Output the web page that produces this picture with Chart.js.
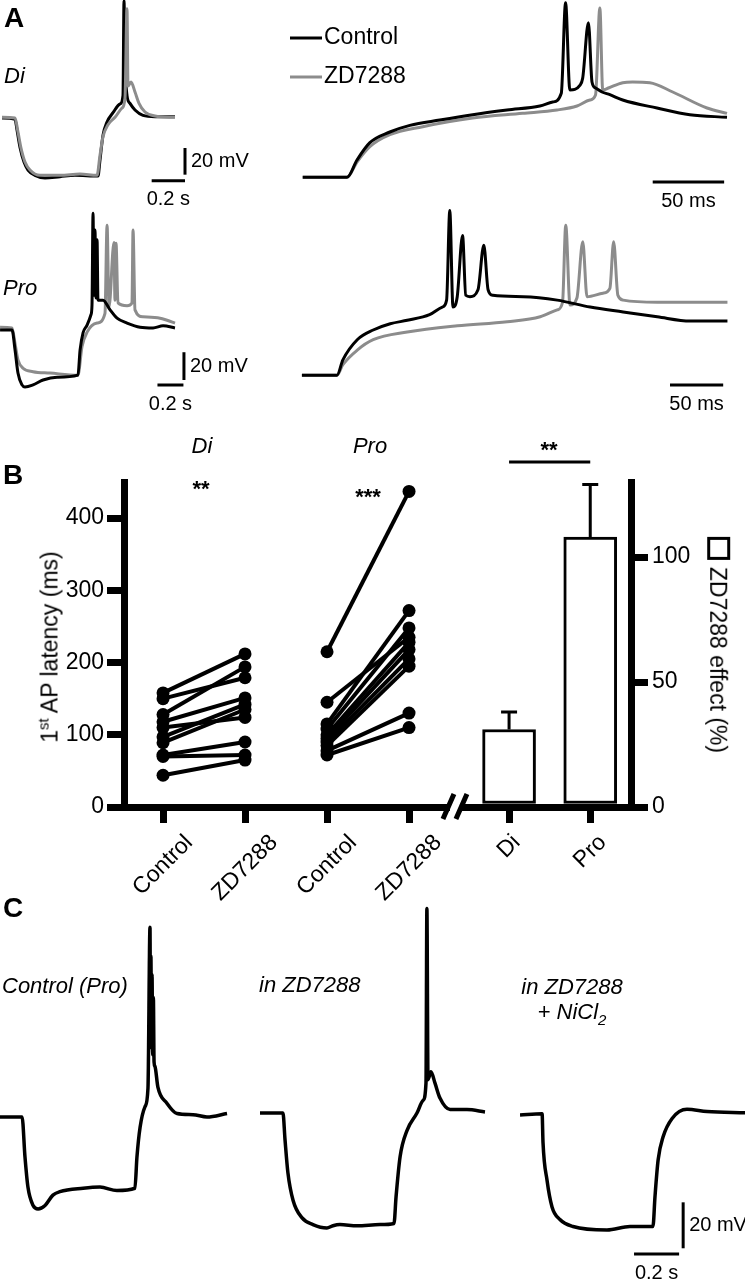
<!DOCTYPE html>
<html>
<head>
<meta charset="utf-8">
<script src="https://cdn.jsdelivr.net/npm/chart.js@4.4.0/dist/chart.umd.min.js"></script>
<style>
  html, body { margin: 0; padding: 0; background: #fff; }
  #fig { position: relative; width: 745px; height: 1280px; overflow: hidden;
         font-family: 'Liberation Sans', Arial, sans-serif; color: #000; }
  #fig canvas { position: absolute; }
  .t { position: absolute; line-height: 1; white-space: nowrap; font-size: 22px; }
  .c { transform: translate(-50%, -50%); }
  .l { transform: translateY(-50%); }
  .panel { font-weight: bold; font-size: 28px; }
  .it { font-style: italic; }
  .star { font-weight: bold; font-size: 22px; }
  sup { font-size: 15px; vertical-align: 9px; line-height: 0; }
  sub { font-size: 15px; vertical-align: -6px; line-height: 0; }
  .box { display: inline-block; width: 17px; height: 17px; border: 3px solid #000;
         vertical-align: middle; margin-right: 7px; position: relative; top: -2px; }
</style>
</head>
<body>
<div id="fig">
  <canvas id="diSlow" width="260" height="215" style="left:0;top:0"></canvas>
  <canvas id="diFast" width="455" height="215" style="left:290px;top:0"></canvas>
  <canvas id="proSlow" width="260" height="220" style="left:0;top:200px"></canvas>
  <canvas id="proFast" width="455" height="220" style="left:290px;top:200px"></canvas>
  <canvas id="cCtrl" width="245" height="390" style="left:0;top:890px"></canvas>
  <canvas id="cZD" width="245" height="390" style="left:245px;top:890px"></canvas>
  <canvas id="cNi" width="255" height="390" style="left:490px;top:890px"></canvas>
  <canvas id="panelB" width="745" height="485" style="left:0;top:420px"></canvas>

  <div class="t l panel" style="left:4px;top:18px">A</div>
  <div class="t l it" style="left:4px;top:76px">Di</div>
  <div class="t l it" style="left:3px;top:288px">Pro</div>

  <div class="t l panel" style="left:3px;top:475px">B</div>
  <div class="t c it" style="left:202px;top:446px">Di</div>
  <div class="t c it" style="left:370px;top:446px">Pro</div>
  <div class="t c star" style="left:201px;top:489px">**</div>
  <div class="t c star" style="left:368px;top:497px">***</div>
  <div class="t c star" style="left:549px;top:450px">**</div>
  <div class="t c" style="left:50px;top:647px;font-size:23px;transform:translate(-50%,-50%) rotate(-90deg)">1<sup>st</sup> AP latency (ms)</div>
  <div class="t c" style="left:717px;top:645px;font-size:23px;transform:translate(-50%,-50%) rotate(90deg)"><span class="box"></span>ZD7288 effect (%)</div>

  <div class="t l panel" style="left:3px;top:908px">C</div>
  <div class="t l it" style="left:2px;top:986px">Control (Pro)</div>
  <div class="t l it" style="left:259px;top:985px">in ZD7288</div>
  <div class="t c it" style="left:572px;top:987px">in ZD7288</div>
  <div class="t c it" style="left:572px;top:1012px">+ NiCl<sub>2</sub></div>
</div>

<script>
const FONT = "'Liberation Sans', Arial, sans-serif";
const GRAY = '#8c8c8c';

// ---- Panel A: traces as [time ms, mV] ----
const diSlowControl = [[-78,0],[0,-1],[12,-9],[30,-22],[54,-33],[78,-39],[120,-43],[180,-45],[270,-44],[360,-43],[498,-43.5],[510,-31.5],[528,-13],[552,-3],[588,4],[630,10.5],[648,17],[654,88],[660,43],[672,17],[690,11],[720,6],[768,2],[840,1],[960,1]];
const diSlowZD = [[-78,0.5],[0,0],[18,-10.5],[36,-22.5],[60,-33],[90,-39],[150,-43],[270,-43],[390,-42],[492,-43],[510,-28],[528,-14],[558,-5],[600,0.5],[642,7.5],[660,15],[672,82],[678,24],[696,27],[720,19.5],[744,11],[780,4.5],[840,1.5],[960,0.5]];

const diFastControl = [[-31,-43],[0,-43],[7,-30],[16,-17],[30,-9],[44,-4],[65,0],[88,4],[112,7.5],[135,10.5],[144,13.5],[150,20],[153,88],[156,22.5],[163,26],[165,31.5],[169,73],[171.5,28.5],[174,24],[178.5,21],[184,19],[193,15],[217,9],[240,4],[266,2]];
const diFastZD = [[-31,-43],[0,-43],[7,-31.5],[16,-20],[30,-11],[53,-5],[88,1.5],[123,5],[147,7.5],[161,10.5],[170,15],[174,19],[177,84],[179,22.5],[183,24],[193,28],[200,28.5],[212,28],[228,21],[252,9],[266,5]];

const proSlowControl = [[-92,0],[0,0],[23,-14],[46,-31],[77,-39.5],[100,-41],[162,-39.5],[239,-36],[347,-34],[508,-32.5],[524,-14.5],[547,-2],[578,3.5],[608,11],[616,18],[624,84],[631,25],[639,72],[647,23],[655,65],[662,21.5],[701,21.5],[755,14.5],[809,8.5],[886,5],[986,2],[1086,1.5],[1163,3],[1255,1.5]];
const proSlowZD = [[-92,2],[0,1.5],[23,-9.5],[46,-21.5],[85,-27.5],[162,-30],[293,-31],[508,-32.5],[539,-12],[578,-1.5],[655,5],[716,12],[732,75.5],[747,16.5],[785,63],[793,21.5],[801,62.5],[816,19.5],[886,17.5],[924,19.5],[932,72],[947,14.5],[1009,9.5],[1140,8.5],[1194,7],[1255,5]];

const proFastControl = [[-33,-32.5],[0,-32.5],[5.5,-21.5],[19,-7],[34,0],[50,4.5],[66,7],[87,11],[99,16.5],[103,21.5],[106,86],[109,16.5],[113,24],[118,68],[121,25],[125,24],[132.5,29],[138,61],[142,29],[146.5,25],[175,24],[207,21.5],[238,16.5],[269,13],[301,9.5],[332,6.5],[367,6.5]];
const proFastZD = [[-33,-32.5],[0,-32.5],[5.5,-25],[19,-14.5],[34,-7],[66,-1.5],[113,3],[160,6],[191,9.5],[207,14.5],[212,20],[215,75.5],[219,18],[225.5,23],[231,63.5],[235,24],[250,26.5],[256.5,30],[260,63.5],[264,25],[269,21.5],[301,20],[367,20]];

// ---- Panel B ----
const xTickPos = [1, 2, 3, 4, 5.22, 6.21];
const xTickLabels = ['Control', 'ZD7288', 'Control', 'ZD7288', 'Di', 'Pro'];
const diControl = [158, 150, 128, 118, 110, 97, 89, 72, 70, 44];
const diZD = [212, 179, 194, 151, 124, 142, 135, 90, 72, 65];
const proControl = [215, 145, 115, 108, 100, 95, 90, 85, 78, 72];
const proZD = [437, 235, 272, 248, 228, 218, 205, 195, 130, 110];
const effectMean = [31, 108];
const effectSem = [7, 21];

// ---- Panel C ----
const cControl = [[-111,0],[-13,0],[0,-17.5],[13,-30.5],[36,-38.5],[58,-40],[89,-38.5],[124,-34],[155,-32.5],[258,-31],[333,-30.5],[408,-32],[488,-31],[497,-17.5],[511,-4.5],[533,4.5],[546,12.5],[555,82.5],[557,40],[559,70],[562,30],[564,62],[567,27],[570,52],[573,24],[577,22],[590,13],[630,6],[675,1.5],[746,1],[808,0],[897,1.5]];
const cZD = [[-111,0],[-9,0],[0,-11.5],[13,-26],[36,-38],[75,-45.5],[124,-48.5],[186,-50],[213,-49],[244,-48.5],[320,-49],[422,-48.5],[484,-48],[493,-36.5],[511,-19],[542,-7.5],[586,0],[613,5.5],[626,13],[630,89],[635,14.5],[648,18],[666,13],[688,6.5],[733,1.5],[808,1.5],[888,0.5]];
const cNi = [[-102,0],[-4,0.5],[0,-12],[18,-28.5],[40,-40],[75,-45.5],[133,-48.5],[284,-50],[386,-48.5],[488,-48.5],[497,-35.5],[511,-19.5],[533,-9.5],[573,-1.5],[639,2.5],[728,1.5],[897,1]];

function pts(arr) { return arr.map(p => ({ x: p[0], y: p[1] })); }

// scale bars drawn through the chart's own scales
const scaleBars = {
  id: 'scaleBars',
  afterDatasetsDraw(chart, args, opts) {
    const { ctx } = chart;
    const xs = chart.scales.x, ys = chart.scales.y;
    ctx.save();
    ctx.strokeStyle = '#000';
    ctx.fillStyle = '#000';
    ctx.lineWidth = 3;
    ctx.font = '20px ' + FONT;
    ctx.textBaseline = 'middle';
    if (opts.time) {
      const b = opts.time;
      const x0 = xs.getPixelForValue(b.from), x1 = xs.getPixelForValue(b.to), py = ys.getPixelForValue(b.at);
      ctx.beginPath(); ctx.moveTo(x0, py); ctx.lineTo(x1, py); ctx.stroke();
      ctx.textAlign = 'center';
      ctx.fillText(b.label, (x0 + x1) / 2, py + 19);
    }
    if (opts.volt) {
      const b = opts.volt;
      const px = xs.getPixelForValue(b.at), y0 = ys.getPixelForValue(b.from), y1 = ys.getPixelForValue(b.to);
      ctx.beginPath(); ctx.moveTo(px, y0); ctx.lineTo(px, y1); ctx.stroke();
      ctx.textAlign = 'left';
      ctx.fillText(b.label, px + 6, (y0 + y1) / 2);
    }
    ctx.restore();
  }
};

const traceLegend = {
  id: 'traceLegend',
  afterDraw(chart, args, opts) {
    if (!opts.items) return;
    const { ctx } = chart;
    ctx.save();
    ctx.font = '23px ' + FONT;
    ctx.textBaseline = 'middle';
    ctx.textAlign = 'left';
    chart.data.datasets.forEach((ds, i) => {
      const it = opts.items[i];
      ctx.strokeStyle = ds.borderColor;
      ctx.lineWidth = 3;
      ctx.beginPath(); ctx.moveTo(it.x0, it.y); ctx.lineTo(it.x1, it.y); ctx.stroke();
      ctx.fillStyle = '#000';
      ctx.fillText(ds.label, it.x1 + 2, it.y);
    });
    ctx.restore();
  }
};

function traceChart(id, series, xr, yr, bars, lw, legend) {
  return new Chart(document.getElementById(id), {
    type: 'scatter',
    data: {
      datasets: series.map(s => ({
        label: s.label,
        data: pts(s.data),
        borderColor: s.color,
        showLine: true,
        pointRadius: 0,
        borderWidth: lw,
        cubicInterpolationMode: 'monotone',
        clip: 8
      }))
    },
    options: {
      responsive: false,
      animation: false,
      events: [],
      layout: { padding: 0 },
      scales: {
        x: { type: 'linear', display: false, min: xr[0], max: xr[1] },
        y: { type: 'linear', display: false, min: yr[0], max: yr[1] }
      },
      plugins: {
        legend: { display: false },
        tooltip: { enabled: false },
        scaleBars: bars || {},
        traceLegend: legend || {}
      }
    },
    plugins: [scaleBars, traceLegend]
  });
}

traceChart('diSlow',
  [{ label: 'ZD7288', data: diSlowZD, color: GRAY }, { label: 'Control', data: diSlowControl, color: '#000' }],
  [-90, 1470], [-72.75, 88.5],
  { time: { from: 820, to: 1020, at: -47, label: '0.2 s' }, volt: { from: -42.5, to: -22.5, at: 1020, label: '20 mV' } }, 3);

traceChart('diFast',
  [{ label: 'Control', data: diFastControl, color: '#000' }, { label: 'ZD7288', data: diFastZD, color: GRAY }],
  [-39.9, 278.6], [-71.25, 90],
  { time: { from: 214, to: 264, at: -46.5, label: '50 ms' } }, 3,
  { items: [{ x0: 0, x1: 32, y: 38 }, { x0: 0, x1: 32, y: 77 }] });

traceChart('proSlow',
  [{ label: 'Control', data: proSlowControl, color: '#000' }, { label: 'ZD7288', data: proSlowZD, color: GRAY }],
  [-92.4, 1909.6], [-64.8, 93.6],
  { time: { from: 1120, to: 1320, at: -39.6, label: '0.2 s' }, volt: { from: -36, to: -16, at: 1324, label: '20 mV' } }, 3);

traceChart('proFast',
  [{ label: 'Control', data: proFastControl, color: '#000' }, { label: 'ZD7288', data: proFastZD, color: GRAY }],
  [-44.2, 383.5], [-64.8, 93.6],
  { time: { from: 313, to: 363, at: -39.6, label: '50 ms' } }, 3);

traceChart('cCtrl', [{ label: 'Control (Pro)', data: cControl, color: '#000' }],
  [-111, 976.8], [-70.9, 98.7], null, 3.5);
traceChart('cZD', [{ label: 'in ZD7288', data: cZD, color: '#000' }],
  [-177.6, 910.2], [-72.6, 97], null, 3.5);
traceChart('cNi', [{ label: 'in ZD7288 + NiCl2', data: cNi, color: '#000' }],
  [-235.3, 896.5], [-71.8, 97.9],
  { time: { from: 404, to: 604, at: -60.5, label: '0.2 s' }, volt: { from: -58, to: -38, at: 622, label: '20 mV' } }, 3.5);

// ---- Panel B chart ----
const errorBars = {
  id: 'errorBars',
  afterDatasetsDraw(chart, args, opts) {
    const { ctx } = chart;
    const xs = chart.scales.x, ys = chart.scales.y2;
    ctx.save();
    ctx.strokeStyle = '#000';
    ctx.lineWidth = 3;
    opts.pos.forEach((p, i) => {
      const px = xs.getPixelForValue(p);
      const y0 = ys.getPixelForValue(opts.mean[i]);
      const y1 = ys.getPixelForValue(opts.mean[i] + opts.sem[i]);
      ctx.beginPath();
      ctx.moveTo(px, y0); ctx.lineTo(px, y1);
      ctx.moveTo(px - 8, y1); ctx.lineTo(px + 8, y1);
      ctx.stroke();
    });
    // significance bracket between the two bars
    const yb = ys.getPixelForValue(opts.bracket);
    ctx.beginPath();
    ctx.moveTo(xs.getPixelForValue(opts.pos[0]), yb);
    ctx.lineTo(xs.getPixelForValue(opts.pos[1]), yb);
    ctx.stroke();
    // axis break
    const bx = xs.getPixelForValue(opts.breakAt);
    const by = chart.chartArea.bottom;
    ctx.fillStyle = '#fff';
    ctx.fillRect(bx - 5, by - 5, 10, 10);
    ctx.lineWidth = 5;
    ctx.beginPath();
    ctx.moveTo(bx - 12, by + 12); ctx.lineTo(bx - 1, by - 13);
    ctx.moveTo(bx + 1, by + 12); ctx.lineTo(bx + 12, by - 13);
    ctx.stroke();
    ctx.restore();
  }
};

// rotated category labels, centred under each tick of the x scale
const slantLabels = {
  id: 'slantLabels',
  afterDraw(chart, args, opts) {
    const { ctx } = chart;
    const xs = chart.scales.x;
    ctx.save();
    ctx.font = '23px ' + FONT;
    ctx.fillStyle = '#000';
    ctx.textAlign = 'center';
    ctx.textBaseline = 'middle';
    xs.ticks.forEach((t, i) => {
      const label = opts.labels[i];
      const w = ctx.measureText(label).width;
      ctx.save();
      ctx.translate(xs.getPixelForValue(t.value), xs.top + opts.top + 0.354 * w);
      ctx.rotate(-Math.PI / 4);
      ctx.fillText(label, 0, 0);
      ctx.restore();
    });
    ctx.restore();
  }
};

const pairSets = [];
function addPairs(ctrl, zd, x0, x1) {
  ctrl.forEach((c, i) => {
    pairSets.push({
      type: 'line',
      data: [{ x: x0, y: c }, { x: x1, y: zd[i] }],
      yAxisID: 'y',
      borderColor: '#000',
      borderWidth: 4,
      pointRadius: 6.5,
      pointBackgroundColor: '#000',
      pointBorderWidth: 0,
      clip: false
    });
  });
}
addPairs(diControl, diZD, xTickPos[0], xTickPos[1]);
addPairs(proControl, proZD, xTickPos[2], xTickPos[3]);

const axisGrid = { drawOnChartArea: false, drawTicks: true, tickLength: 17, tickWidth: 7, tickColor: '#000', color: '#000', lineWidth: 7, offset: false };
const axisBorder = { display: true, width: 7, color: '#000' };
const tickFont = { size: 23, family: FONT };

new Chart(document.getElementById('panelB'), {
  type: 'line',
  data: {
    datasets: pairSets.concat([{
      type: 'bar',
      data: effectMean.map((m, i) => ({ x: xTickPos[4 + i], y: m })),
      yAxisID: 'y2',
      backgroundColor: '#fff',
      borderColor: '#000',
      borderWidth: 3,
      borderSkipped: false,
      barThickness: 53
    }])
  },
  options: {
    responsive: false,
    animation: false,
    events: [],
    layout: { padding: { top: 62, left: 0, right: 0, bottom: 0 } },
    scales: {
      x: {
        type: 'linear', position: 'bottom', min: 0.524, max: 6.707, offset: false,
        afterBuildTicks: s => { s.ticks = xTickPos.map(v => ({ value: v })); },
        afterFit: s => { s.height = 98; },
        ticks: { display: false, autoSkip: false },
        grid: Object.assign({}, axisGrid, { tickLength: 16 }),
        border: axisBorder
      },
      y: {
        type: 'linear', position: 'left', min: 0, max: 450,
        afterFit: s => { s.width = 124; },
        ticks: { stepSize: 100, includeBounds: false, font: tickFont, color: '#000', padding: 3 },
        grid: axisGrid,
        border: axisBorder
      },
      y2: {
        type: 'linear', position: 'right', min: 0, max: 130,
        afterFit: s => { s.width = 114; },
        ticks: { stepSize: 50, includeBounds: false, font: tickFont, color: '#000', padding: 4 },
        grid: axisGrid,
        border: axisBorder
      }
    },
    plugins: {
      legend: { display: false },
      tooltip: { enabled: false },
      errorBars: { pos: [xTickPos[4], xTickPos[5]], mean: effectMean, sem: effectSem, bracket: 138, breakAt: 4.56 },
      slantLabels: { labels: xTickLabels, top: 32 }
    }
  },
  plugins: [errorBars, slantLabels]
});
</script>
</body>
</html>
